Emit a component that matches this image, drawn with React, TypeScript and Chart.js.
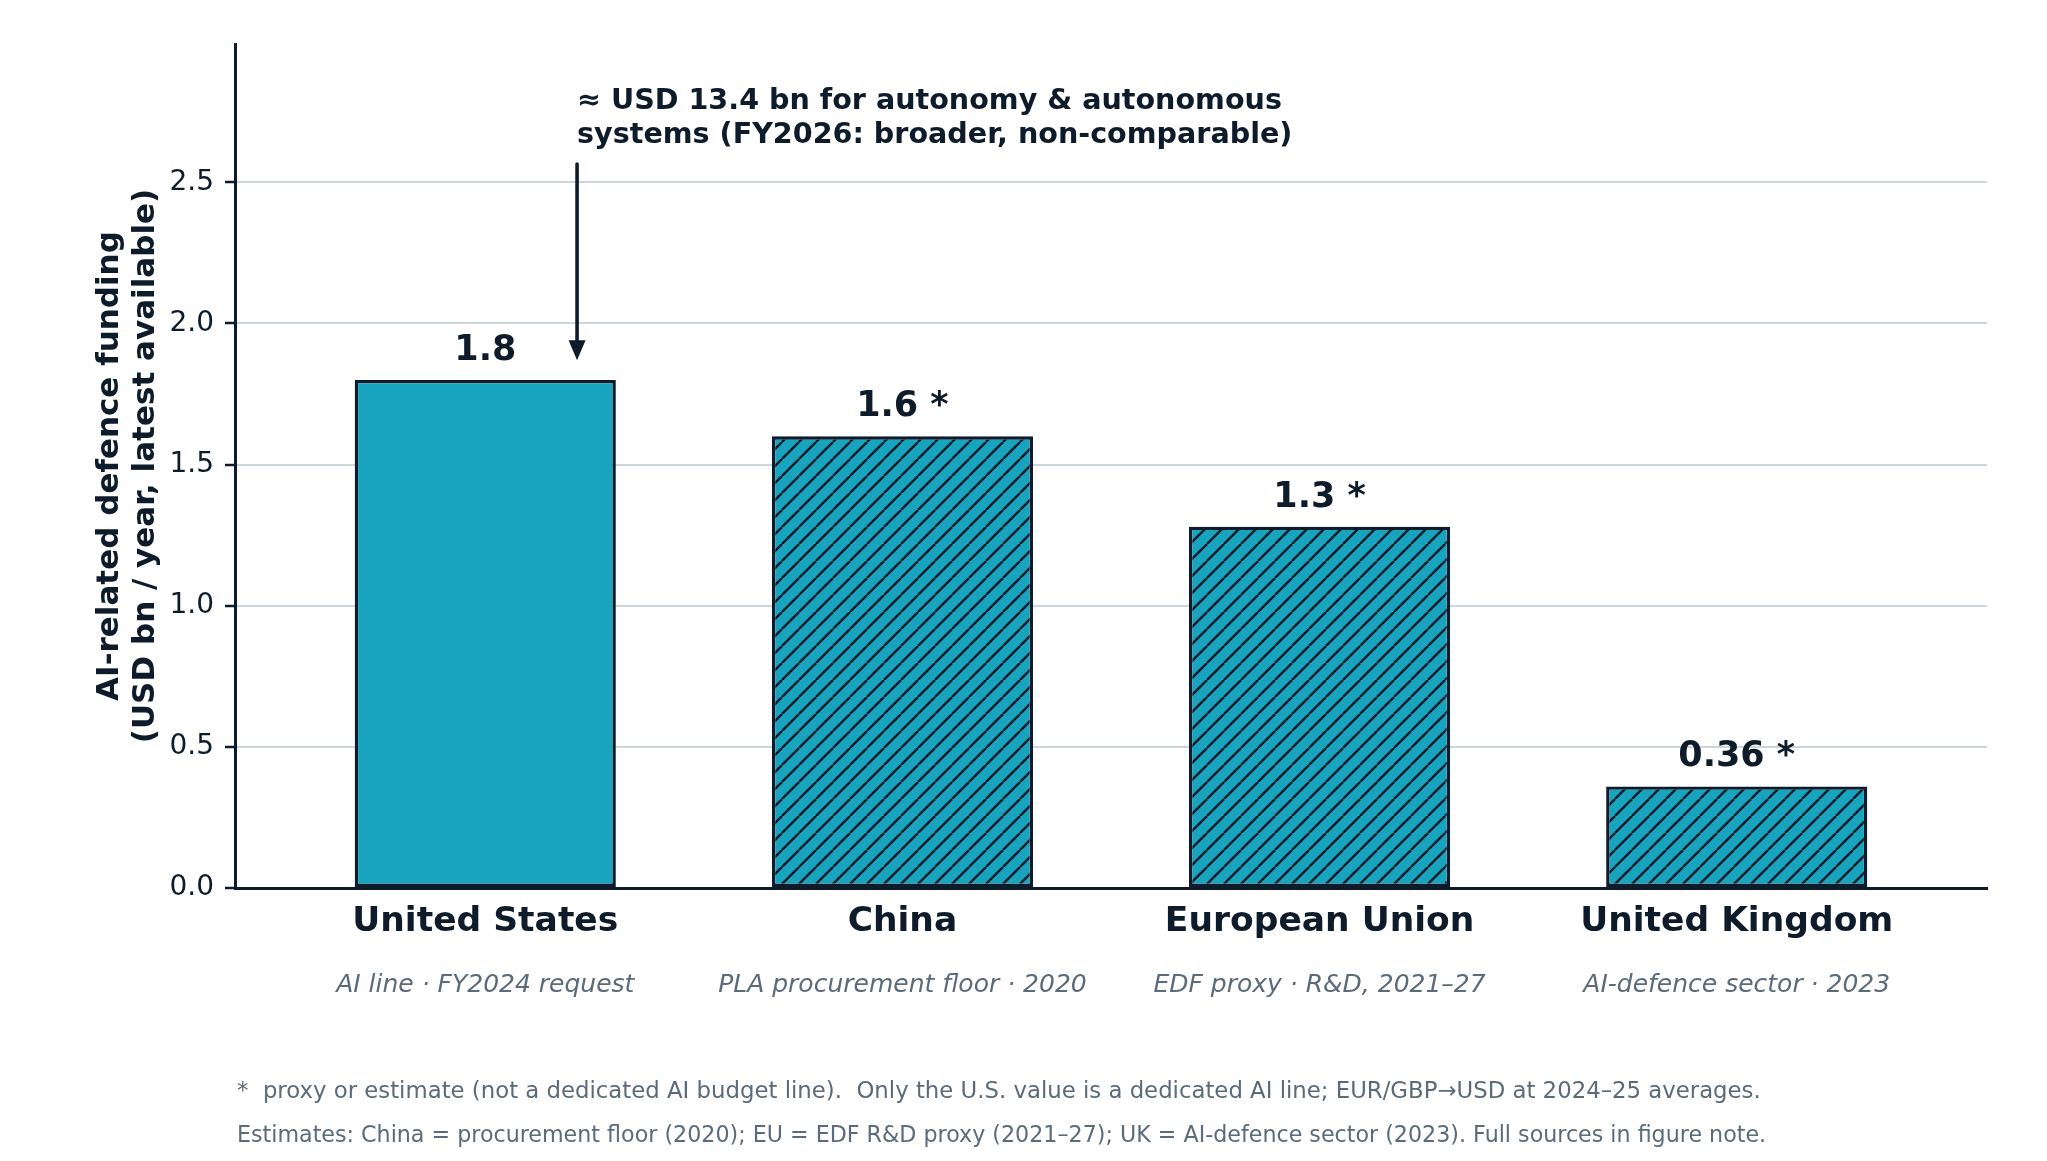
import React, { useEffect, useRef } from "react";
import { Chart, registerables } from "chart.js";

Chart.register(...registerables);

// ---------- data ----------
const categories = ["United States", "China", "European Union", "United Kingdom"];
const subLabels = [
  "AI line · FY2024 request",
  "PLA procurement floor · 2020",
  "EDF proxy · R&D, 2021–27",
  "AI-defence sector · 2023",
];
const values = [1.8, 1.6, 1.28, 0.36];
const valueLabels = ["1.8", "1.6 *", "1.3 *", "0.36 *"];
const hatched = [false, true, true, true];
const yTicks = [0, 0.5, 1.0, 1.5, 2.0, 2.5];
const yAxisTitle = ["AI-related defence funding", "(USD bn / year, latest available)"];
const annotationLines = [
  "≈ USD 13.4 bn for autonomy & autonomous",
  "systems (FY2026: broader, non-comparable)",
];
const annotationX = 0.22;
const annotationTextY = 2.64;
const arrowFromY = 2.565;
const arrowToY = 1.87;
const footnotes = [
  "*  proxy or estimate (not a dedicated AI budget line).  Only the U.S. value is a dedicated AI line; EUR/GBP→USD at 2024–25 averages.",
  "Estimates: China = procurement floor (2020); EU = EDF R&D proxy (2021–27); UK = AI-defence sector (2023). Full sources in figure note.",
];

// ---------- style ----------
const FONT = "'DejaVu Sans', sans-serif";
const DARK = "#0d1b2a";
const TEAL = "#18a3bf";
const GRID = "#cdd6de";
const GRAY = "#5b6b7a";
const W = 2047;
const H = 1161;

function makeHatch(): CanvasPattern | string {
  const P = 17;
  const c = document.createElement("canvas");
  c.width = P;
  c.height = P;
  const g = c.getContext("2d");
  if (!g) return TEAL;
  g.fillStyle = TEAL;
  g.fillRect(0, 0, P, P);
  g.strokeStyle = DARK;
  g.lineWidth = 2.4;
  for (let k = -1; k <= 1; k++) {
    g.beginPath();
    g.moveTo(k * P, P);
    g.lineTo(k * P + P, 0);
    g.stroke();
  }
  const pat = g.createPattern(c, "repeat");
  return pat || TEAL;
}

const overlayPlugin = {
  id: "overlay",
  afterDatasetsDraw(chart: any) {
    const ctx: CanvasRenderingContext2D = chart.ctx;
    const meta = chart.getDatasetMeta(0);
    const xs = chart.scales.x;
    const ys = chart.scales.y;
    ctx.save();
    // value labels
    ctx.fillStyle = DARK;
    ctx.font = `bold 35px ${FONT}`;
    ctx.textAlign = "center";
    ctx.textBaseline = "alphabetic";
    meta.data.forEach((el: any, i: number) => {
      ctx.fillText(valueLabels[i], el.x, el.y - 20);
    });
    // annotation text
    const ax = xs.getPixelForValue(annotationX);
    const ty2 = ys.getPixelForValue(annotationTextY);
    ctx.font = `bold 28.6px ${FONT}`;
    ctx.textAlign = "left";
    ctx.fillText(annotationLines[0], ax, ty2 - 34);
    ctx.fillText(annotationLines[1], ax, ty2);
    // arrow
    const y0 = ys.getPixelForValue(arrowFromY);
    const y1 = ys.getPixelForValue(arrowToY);
    const headLen = 20;
    const headHalf = 8.5;
    ctx.strokeStyle = DARK;
    ctx.lineWidth = 3.6;
    ctx.lineCap = "round";
    ctx.beginPath();
    ctx.moveTo(ax, y0);
    ctx.lineTo(ax, y1 - headLen + 2);
    ctx.stroke();
    ctx.beginPath();
    ctx.moveTo(ax, y1);
    ctx.lineTo(ax - headHalf, y1 - headLen);
    ctx.lineTo(ax + headHalf, y1 - headLen);
    ctx.closePath();
    ctx.fill();
    ctx.restore();
  },
  afterDraw(chart: any) {
    const ctx: CanvasRenderingContext2D = chart.ctx;
    const xs = chart.scales.x;
    const area = chart.chartArea;
    ctx.save();
    // category labels
    categories.forEach((c, i) => {
      const x = xs.getPixelForValue(i);
      ctx.fillStyle = DARK;
      ctx.font = `bold 34.5px ${FONT}`;
      ctx.textAlign = "center";
      ctx.textBaseline = "alphabetic";
      ctx.fillText(c, x, area.bottom + 43);
      ctx.fillStyle = GRAY;
      ctx.font = `italic 25px ${FONT}`;
      ctx.fillText(subLabels[i], x, area.bottom + 104);
    });
    // y-axis title
    ctx.save();
    ctx.translate(154, (area.top + area.bottom) / 2);
    ctx.rotate(-Math.PI / 2);
    ctx.fillStyle = DARK;
    ctx.font = `bold 31px ${FONT}`;
    ctx.textAlign = "center";
    ctx.fillText(yAxisTitle[1], 0, 0);
    ctx.fillText(yAxisTitle[0], 0, -36);
    ctx.restore();
    // footnotes
    ctx.fillStyle = GRAY;
    ctx.textAlign = "left";
    ctx.font = `22.8px ${FONT}`;
    ctx.fillText(footnotes[0], 237, 1098);
    ctx.font = `22.2px ${FONT}`;
    ctx.fillText(footnotes[1], 237, 1142);
    ctx.restore();
  },
};

export default function App() {
  const ref = useRef<HTMLCanvasElement | null>(null);

  useEffect(() => {
    const canvas = ref.current;
    if (!canvas) return;
    const hatch = makeHatch();
    const chart = new Chart(canvas, {
      type: "bar",
      data: {
        datasets: [
          {
            data: values.map((v, i) => ({ x: i, y: v })),
            backgroundColor: hatched.map((h) => (h ? hatch : TEAL)) as any,
            borderColor: DARK,
            borderWidth: 3.4,
            borderSkipped: false,
            barPercentage: 0.626,
            categoryPercentage: 1,
          } as any,
        ],
      },
      options: {
        responsive: false,
        animation: false,
        devicePixelRatio: 1,
        layout: { padding: { left: 135, right: 60, top: 44, bottom: 173 } },
        plugins: {
          legend: { display: false },
          tooltip: { enabled: false },
          title: { display: false },
        },
        scales: {
          x: {
            type: "linear",
            min: -0.6,
            max: 3.6,
            offset: false,
            bounds: "data",
            afterBuildTicks: (s: any) => {
              s.ticks = categories.map((_, i) => ({ value: i }));
            },
            afterFit: (s: any) => {
              s.height = 100;
            },
            ticks: { display: false },
            grid: { display: false, drawTicks: false, offset: false },
            border: { display: true, color: DARK, width: 3, z: 1 },
          },
          y: {
            type: "linear",
            min: 0,
            max: 2.99,
            afterBuildTicks: (s: any) => {
              s.ticks = yTicks.map((v) => ({ value: v }));
            },
            afterFit: (s: any) => {
              s.width = 100;
            },
            ticks: {
              font: { family: FONT, size: 28 },
              color: DARK,
              padding: 11,
              callback: (v: any) => Number(v).toFixed(1),
            },
            grid: {
              color: GRID,
              lineWidth: 2,
              tickColor: DARK,
              tickWidth: 2.5,
              tickLength: 10,
              drawTicks: true,
            },
            border: { display: true, color: DARK, width: 3, z: 1 },
          },
        } as any,
      },
      plugins: [overlayPlugin],
    });
    return () => chart.destroy();
  }, []);

  return (
    <div style={{ position: "fixed", left: 0, top: 0, width: W, height: H, background: "#fff" }}>
      <canvas ref={ref} width={W} height={H} style={{ width: W, height: H, display: "block" }} />
    </div>
  );
}
